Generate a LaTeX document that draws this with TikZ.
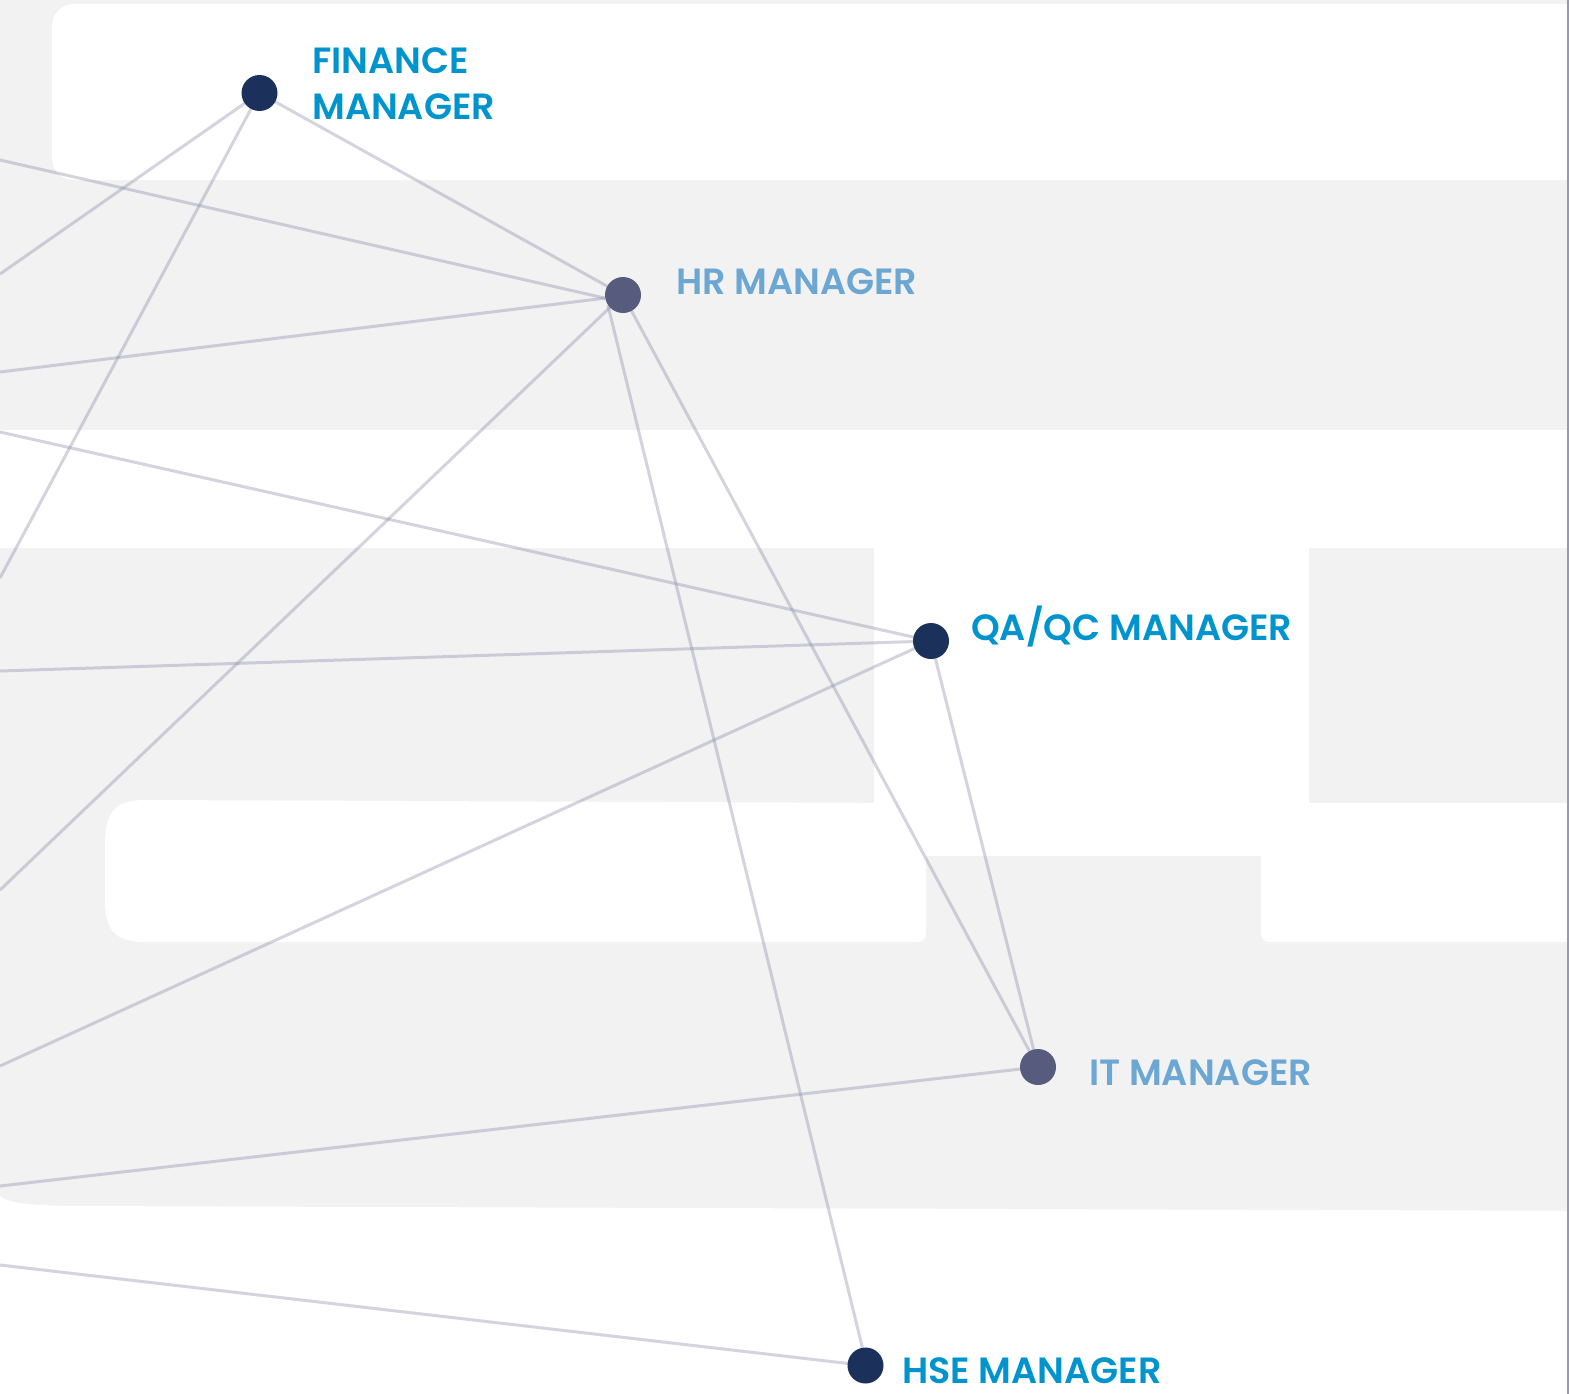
\documentclass[tikz,border=0pt]{standalone}
\usepackage{fontspec}
\setmainfont{Poppins SemiBold}
\pgfdeclarelayer{bg}
\pgfdeclarelayer{edges}
\pgfsetlayers{bg,edges,main}
\definecolor{bgrey}{RGB}{242,242,242}
\definecolor{linec}{RGB}{142,142,172}
\definecolor{navy}{RGB}{28,48,92}
\definecolor{slate}{RGB}{87,92,127}
\definecolor{dkblue}{RGB}{0,148,206}
\definecolor{ltblue}{RGB}{108,166,211}
\definecolor{edgeline}{RGB}{152,152,178}
\tikzset{
  dotnode/.style={circle, minimum size=36pt, inner sep=0pt},
  navydot/.style={dotnode, fill=navy},
  slatedot/.style={dotnode, fill=slate},
  lbl/.style={anchor=base west, inner sep=0pt, font=\fontsize{36.5pt}{44pt}\selectfont},
  edge/.style={draw=linec, line width=3pt, draw opacity=0.38},
}
\begin{document}
\begin{tikzpicture}[x=1pt,y=-1pt]
\useasboundingbox (0,0) rectangle (1569,1394);
\begin{pgfonlayer}{bg}
\begin{scope}
\clip (0,0) rectangle (1569,1394);
\fill[bgrey] (0,0) rectangle (1569,1394);
\fill[white, rounded corners=22pt] (52,4) rectangle (1640,180);
\fill[white] (-10,430) rectangle (1640,548);
\fill[white] (874,548) rectangle (1309,856);
\fill[white] (926,803) -- (145,800) .. controls (115,800) and (105,812) .. (105,845)
  -- (105,900) .. controls (105,930) and (115,942) .. (145,942)
  -- (916,942) .. controls (922,942) and (926,940) .. (926,934) -- cycle;
\fill[white] (1261,803) -- (1640,803) -- (1640,942) -- (1271,942)
  .. controls (1265,942) and (1261,940) .. (1261,934) -- cycle;
\fill[white] (0,1196) .. controls (8,1203) and (25,1205) .. (70,1206)
  -- (1640,1211) -- (1640,1400) -- (0,1400) -- cycle;
\fill[edgeline] (1566.5,0) rectangle (1570,1394);
\end{scope}
\end{pgfonlayer}

% nodes
\node[navydot] (fin) at (259.5,93) {};
\node[slatedot] (hr) at (623,295) {};
\node[navydot] (qa) at (931,641) {};
\node[slatedot] (it) at (1038,1067) {};
\node[navydot] (hse) at (865.5,1365.5) {};

% free ends on the left edge
\coordinate (l1) at (0,274);
\coordinate (l2) at (0,578);
\coordinate (l3) at (0,160);
\coordinate (l4) at (0,372);
\coordinate (l5) at (0,890);
\coordinate (l6) at (0,432);
\coordinate (l7) at (0,671);
\coordinate (l8) at (0,1066);
\coordinate (l9) at (0,1186);
\coordinate (l10) at (0,1265);

\begin{pgfonlayer}{edges}
\draw[edge] (fin.center) -- (l1);
\draw[edge] (fin.center) -- (l2);
\draw[edge] (fin.center) -- (hr.center);
\draw[edge] (l3) -- (hr.190);
\draw[edge] (l4) -- (hr.190);
\draw[edge] (hr.center) -- (l5);
\draw[edge] (hr.214) -- (hse.100);
\draw[edge] (hr.center) -- (it.center);
\draw[edge] (l6) -- (qa.center);
\draw[edge] (l7) -- (qa.center);
\draw[edge] (qa.center) -- (l8);
\draw[edge] (qa.center) -- (it.center);
\draw[edge] (it.center) -- (l9);
\draw[edge] (l10) -- (hse.center);
\end{pgfonlayer}

% labels
\node[lbl, text=dkblue] (finT1) at (312,74) {FINANCE};
\node[lbl, text=dkblue] (finT2) at (312,120) {MANAGER};
\node[lbl, text=ltblue] (hrT) at (676,294) {HR MANAGER};
\node[lbl, text=dkblue] (qaT) at (971,640) {QA/QC MANAGER};
\node[lbl, text=ltblue] (itT) at (1089,1085) {IT MANAGER};
\node[lbl, text=dkblue] (hseT) at (902,1383) {HSE MANAGER};
\end{tikzpicture}
\end{document}
